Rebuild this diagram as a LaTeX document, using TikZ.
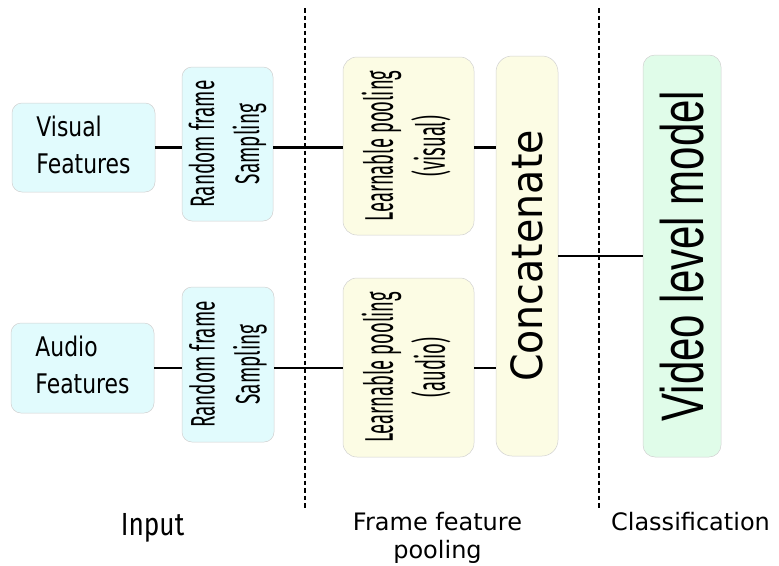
\documentclass[tikz,border=0pt]{standalone}
\usepackage{fontspec}
\usepackage{graphicx}
\newfontfamily\dvcond[FakeStretch=0.81]{DejaVu Sans}
\newfontfamily\dvlab{DejaVu Sans}
\newfontfamily\dvconc[FakeStretch=0.92]{DejaVu Sans}
\newfontfamily\firaIn[FakeStretch=0.82]{Fira Sans}
\newfontfamily\firaRf[FakeStretch=0.56]{Fira Sans}
\newfontfamily\firaLp[FakeStretch=0.46]{Fira Sans}
\newfontfamily\libVm[FakeStretch=0.70]{Liberation Sans}
\definecolor{cyanfill}{HTML}{E1FBFD}
\definecolor{yelfill}{HTML}{FCFCE4}
\definecolor{grnfill}{HTML}{E0FCE9}
\definecolor{boxline}{HTML}{D2D2D2}
\tikzset{
  basebox/.style={draw=boxline, line width=0.5pt, rounded corners=10pt, inner sep=0pt},
  cyanbox/.style={basebox, fill=cyanfill},
  yelbox/.style={basebox, fill=yelfill},
  grnbox/.style={basebox, fill=grnfill, rounded corners=12pt},
  conn/.style={line width=2.4pt, black},
  sepline/.style={line width=2.2pt, black, dash pattern=on 4.5pt off 3pt},
  lab/.style={inner sep=0pt, anchor=base}
}
\begin{document}
\begin{tikzpicture}[x=1pt,y=-1pt]
\useasboundingbox[fill=white] (0,0) rectangle (779,565);
% separators
\coordinate (s1t) at (305,8);
\coordinate (s1b) at (305,510);
\coordinate (s2t) at (599,8);
\coordinate (s2b) at (599,510);
\draw[sepline] (s1t) -- (s1b);
\draw[sepline] (s2t) -- (s2b);
% input boxes
\node[cyanbox, minimum width=143pt, minimum height=89pt] (vf) at (83.5,147.5)
  {\fontsize{27}{37}\dvcond\begin{tabular}{@{}l@{}}Visual\\Features\end{tabular}};
\node[cyanbox, minimum width=143pt, minimum height=90pt] (af) at (82.5,368)
  {\fontsize{27}{37}\dvcond\begin{tabular}{@{}l@{}}Audio\\Features\end{tabular}};
% sampling
\node[cyanbox, minimum width=91pt, minimum height=154pt] (vs) at (227.5,144)
  {\rotatebox{90}{\fontsize{34}{45}\firaRf\begin{tabular}{@{}c@{}}Random frame\\Sampling\end{tabular}}};
\node[cyanbox, minimum width=92pt, minimum height=155pt] (as) at (228,364.5)
  {\rotatebox{90}{\fontsize{34}{45}\firaRf\begin{tabular}{@{}c@{}}Random frame\\Sampling\end{tabular}}};
% learnable pooling
\node[yelbox, rounded corners=14pt, minimum width=131pt, minimum height=178pt] (lpv) at (408.5,146)
  {\rotatebox{90}{\fontsize{40}{52}\firaLp\begin{tabular}{@{}c@{}}Learnable pooling\\(visual)\end{tabular}}};
\node[yelbox, rounded corners=14pt, minimum width=131pt, minimum height=179pt] (lpa) at (408.5,367.5)
  {\rotatebox{90}{\fontsize{40}{52}\firaLp\begin{tabular}{@{}c@{}}Learnable pooling\\(audio)\end{tabular}}};
% concatenate
\node[yelbox, rounded corners=16pt, minimum width=62pt, minimum height=400pt] (cc) at (527,256)
  {\rotatebox{90}{\fontsize{43}{50}\dvconc Concatenate}};
% video level model
\node[grnbox, minimum width=78pt, minimum height=402pt] (vm) at (682,256)
  {\rotatebox{90}{\fontsize{60}{70}\libVm Video level model}};
% connectors
\draw[conn] (vf.east) -- (vf.east -| vs.west);
\draw[conn] (vf.east -| vs.east) -- (vf.east -| lpv.west);
\draw[conn] (vf.east -| lpv.east) -- (vf.east -| cc.west);
\draw[conn] (af.east) -- (af.east -| as.west);
\draw[conn] (af.east -| as.east) -- (af.east -| lpa.west);
\draw[conn] (af.east -| lpa.east) -- (af.east -| cc.west);
\draw[conn] (cc.east) -- (vm.west);
% section labels
\node[lab] (lin) at (152.5,535) {\fontsize{32}{38}\firaIn Input};
\node[lab] (lfp) at (437.5,530) {\fontsize{24}{28}\dvlab\begin{tabular}[t]{@{}c@{}}Frame feature\\pooling\end{tabular}};
\node[lab] (lcl) at (690.5,530) {\fontsize{24}{28}\dvlab Classification};
\end{tikzpicture}
\end{document}
